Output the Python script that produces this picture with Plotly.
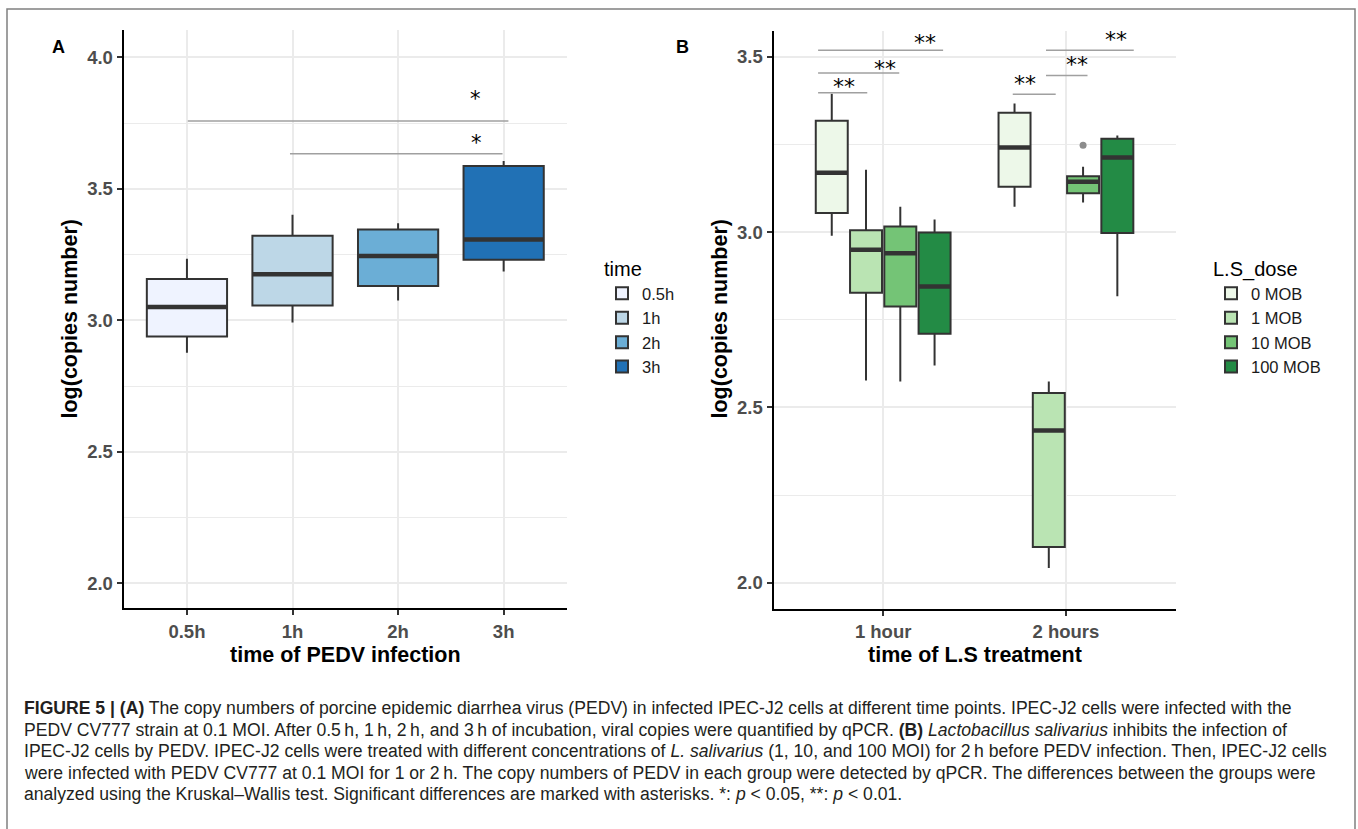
import plotly.graph_objects as go

W, H = 1358, 829

# ---------------- Panel A data ----------------
time_labels = ["0.5h", "1h", "2h", "3h"]
a_lower = [2.877, 2.992, 3.076, 3.186]
a_q1 = [2.939, 3.057, 3.131, 3.231]
a_median = [3.051, 3.176, 3.245, 3.308]
a_q3 = [3.158, 3.322, 3.346, 3.587]
a_upper = [3.235, 3.402, 3.370, 3.606]
a_colors = ["#EFF3FF", "#BDD7E7", "#6BAED6", "#2171B5"]

a_sig_x0 = [0.008, 0.976]
a_sig_x1 = [3.045, 2.989]
a_sig_y = [3.758, 3.634]
a_sig_label = ["*", "*"]
a_sig_text_x = [2.731, 2.747]
a_sig_text_y = [3.850, 3.682]
a_yticks = [2.0, 2.5, 3.0, 3.5, 4.0]

# ---------------- Panel B data ----------------
treat_labels = ["1 hour", "2 hours"]
dose_labels = ["0 MOB", "1 MOB", "10 MOB", "100 MOB"]
b_lower = [[2.990, 3.073], [2.577, 2.042], [2.574, 3.085], [2.620, 2.817]]
b_q1 = [[3.055, 3.130], [2.827, 2.102], [2.788, 3.111], [2.710, 2.998]]
b_median = [[3.170, 3.242], [2.950, 2.434], [2.940, 3.144], [2.845, 3.213]]
b_q3 = [[3.318, 3.341], [3.006, 2.541], [3.016, 3.160], [2.999, 3.267]]
b_upper = [[3.395, 3.367], [3.178, 2.574], [3.073, 3.187], [3.036, 3.276]]
b_colors = ["#EDF8E9", "#BAE4B3", "#74C476", "#238B45"]
b_outlier_dose = "10 MOB"
b_outlier_treat = "2 hours"
b_outlier_value = 3.248

b_sig_x0 = [-0.356, -0.356, -0.356, 0.709, 0.891, 0.891]
b_sig_x1 = [-0.087, 0.088, 0.328, 0.944, 1.118, 1.371]
b_sig_y = [3.398, 3.454, 3.519, 3.394, 3.447, 3.519]
b_sig_label = ["**", "**", "**", "**", "**", "**"]
b_sig_text_x = [-0.214, 0.009, 0.231, 0.776, 1.062, 1.276]
b_sig_text_y = [3.422, 3.472, 3.546, 3.429, 3.484, 3.557]
b_yticks = [2.0, 2.5, 3.0, 3.5]

caption_lines = [
    "<b>FIGURE 5 | (A)</b> The copy numbers of porcine epidemic diarrhea virus (PEDV) in infected IPEC-J2 cells at different time points. IPEC-J2 cells were infected with the",
    "PEDV CV777 strain at 0.1 MOI. After 0.5\u2009h, 1\u2009h, 2\u2009h, and 3\u2009h of incubation, viral copies were quantified by qPCR. <b>(B)</b> <i>Lactobacillus salivarius</i> inhibits the infection of",
    "IPEC-J2 cells by PEDV. IPEC-J2 cells were treated with different concentrations of <i>L. salivarius</i> (1, 10, and 100 MOI) for 2\u2009h before PEDV infection. Then, IPEC-J2 cells",
    "were infected with PEDV CV777 at 0.1 MOI for 1 or 2\u2009h. The copy numbers of PEDV in each group were detected by qPCR. The differences between the groups were",
    "analyzed using the Kruskal\u2013Wallis test. Significant differences are marked with asterisks. *: <i>p</i> &lt; 0.05, **: <i>p</i> &lt; 0.01.",
]

# ---------------- styling ----------------
FONT = "Liberation Sans, Arial, Helvetica, sans-serif"
EDGE = "#333333"
GRID = "#EBEBEB"
A_WIDTH = 0.76
B_DODGE = 0.75
B_WIDTH = 0.175


def px(x):
    return x / W


def py(y):
    return 1 - y / H


fig = go.Figure()

# Panel A boxes
for i, lab in enumerate(time_labels):
    fig.add_trace(go.Box(
        x=[i], q1=[a_q1[i]], median=[a_median[i]], q3=[a_q3[i]],
        lowerfence=[a_lower[i]], upperfence=[a_upper[i]],
        width=A_WIDTH, name=lab, fillcolor=a_colors[i],
        line=dict(color=EDGE, width=2), whiskerwidth=0, boxpoints=False,
        xaxis="x", yaxis="y", legend="legend", hoverinfo="skip",
    ))
for i, lab in enumerate(time_labels):
    fig.add_trace(go.Scatter(
        x=[i - A_WIDTH / 2, i + A_WIDTH / 2], y=[a_median[i], a_median[i]],
        mode="lines", line=dict(color=EDGE, width=4.5), showlegend=False,
        xaxis="x", yaxis="y", hoverinfo="skip",
    ))
for k in range(len(a_sig_y)):
    fig.add_trace(go.Scatter(
        x=[a_sig_x0[k], a_sig_x1[k]], y=[a_sig_y[k], a_sig_y[k]],
        mode="lines", line=dict(color="#A0A0A0", width=1.5), showlegend=False,
        xaxis="x", yaxis="y", hoverinfo="skip",
    ))

# Panel B boxes
n_d = len(dose_labels)
slot = B_DODGE / n_d
for j, dose in enumerate(dose_labels):
    off = (j - (n_d - 1) / 2) * slot
    xs = [t + off for t in range(len(treat_labels))]
    fig.add_trace(go.Box(
        x=xs, q1=b_q1[j], median=b_median[j], q3=b_q3[j],
        lowerfence=b_lower[j], upperfence=b_upper[j],
        width=B_WIDTH, name=dose, fillcolor=b_colors[j],
        line=dict(color=EDGE, width=2), whiskerwidth=0, boxpoints=False,
        xaxis="x2", yaxis="y2", legend="legend2", hoverinfo="skip",
    ))
    for t in range(len(treat_labels)):
        fig.add_trace(go.Scatter(
            x=[xs[t] - B_WIDTH / 2, xs[t] + B_WIDTH / 2],
            y=[b_median[j][t], b_median[j][t]],
            mode="lines", line=dict(color=EDGE, width=4.5), showlegend=False,
            xaxis="x2", yaxis="y2", hoverinfo="skip",
        ))
# outlier
oj = dose_labels.index(b_outlier_dose)
ot = treat_labels.index(b_outlier_treat)
fig.add_trace(go.Scatter(
    x=[ot + (oj - (n_d - 1) / 2) * slot], y=[b_outlier_value], mode="markers",
    marker=dict(color="#8C8C8C", size=7), showlegend=False,
    xaxis="x2", yaxis="y2", hoverinfo="skip",
))
for k in range(len(b_sig_y)):
    fig.add_trace(go.Scatter(
        x=[b_sig_x0[k], b_sig_x1[k]], y=[b_sig_y[k], b_sig_y[k]],
        mode="lines", line=dict(color="#A0A0A0", width=1.5), showlegend=False,
        xaxis="x2", yaxis="y2", hoverinfo="skip",
    ))

annotations = []
for k in range(len(a_sig_label)):
    annotations.append(dict(
        x=a_sig_text_x[k], y=a_sig_text_y[k], xref="x", yref="y",
        text=a_sig_label[k], showarrow=False, yshift=-2,
        font=dict(family="DejaVu Sans", size=21, color="black"),
    ))
for k in range(len(b_sig_label)):
    annotations.append(dict(
        x=b_sig_text_x[k], y=b_sig_text_y[k], xref="x2", yref="y2",
        text=b_sig_label[k], showarrow=False, yshift=-2,
        font=dict(family="DejaVu Sans", size=22, color="black"),
    ))

title_font = dict(family=FONT, size=21.5, color="black", weight="bold")
annotations += [
    dict(x=px(345.3), y=py(655), xref="paper", yref="paper", text="time of PEDV infection",
         showarrow=False, font=title_font, xanchor="center", yanchor="middle"),
    dict(x=px(70), y=py(319.5), xref="paper", yref="paper", text="log(copies number)",
         showarrow=False, font=title_font, textangle=-90, xanchor="center", yanchor="middle"),
    dict(x=px(974.5), y=py(655), xref="paper", yref="paper", text="time of L.S treatment",
         showarrow=False, font=title_font, xanchor="center", yanchor="middle"),
    dict(x=px(719.5), y=py(319), xref="paper", yref="paper", text="log(copies number)",
         showarrow=False, font=title_font, textangle=-90, xanchor="center", yanchor="middle"),
    dict(x=px(50), y=py(35), xref="paper", yref="paper", text="A", showarrow=False,
         font=dict(family=FONT, size=18, color="black", weight="bold")),
    dict(x=px(682), y=py(35), xref="paper", yref="paper", text="B", showarrow=False,
         font=dict(family=FONT, size=18, color="black", weight="bold")),
]
cap_y = [708, 729.5, 751, 772.5, 794]
for line, yy in zip(caption_lines, cap_y):
    annotations.append(dict(
        x=px(22), y=py(yy), xref="paper", yref="paper", text=line, showarrow=False,
        xanchor="left", yanchor="middle", align="left",
        font=dict(family=FONT, size=17.6, color="#231F20"),
    ))

tickfont = dict(family=FONT, size=18.5, color="#4D4D4D", weight="bold")
common_y = dict(
    showline=True, linecolor="black", linewidth=2, ticks="outside", ticklen=5,
    tickwidth=1.5, tickcolor="#333333", tickfont=tickfont, showgrid=True,
    gridcolor=GRID, gridwidth=2, zeroline=False, tickformat=".1f",
    minor=dict(dtick=0.25, tick0=0, showgrid=True, gridcolor=GRID, gridwidth=1, ticks=""),
)
common_x = dict(
    showline=True, linecolor="black", linewidth=2, ticks="outside", ticklen=5,
    tickwidth=1.5, tickcolor="#333333", tickfont=tickfont, showgrid=True,
    gridcolor=GRID, gridwidth=2, zeroline=False,
)

legend_common = dict(
    xanchor="left", yanchor="top", bgcolor="rgba(0,0,0,0)", tracegroupgap=0,
    font=dict(family=FONT, size=16.5, color="#1A1A1A"),
)

fig.update_layout(
    width=W, height=H, margin=dict(l=0, r=0, t=0, b=0),
    paper_bgcolor="white", plot_bgcolor="white", hovermode=False,
    font=dict(family=FONT),
    xaxis=dict(domain=[px(123.6), px(567)], range=[-0.6, len(time_labels) - 0.4],
               tickvals=list(range(len(time_labels))), ticktext=time_labels, anchor="y", **common_x),
    yaxis=dict(domain=[py(608.4), py(30.4)], range=[1.905, 4.103], tickvals=a_yticks,
               anchor="x", **common_y),
    xaxis2=dict(domain=[px(773.5), px(1175.6)], range=[-0.6, len(treat_labels) - 0.4],
                tickvals=list(range(len(treat_labels))), ticktext=treat_labels, anchor="y2", **common_x),
    yaxis2=dict(domain=[py(609), py(30.7)], range=[1.925, 3.575], tickvals=b_yticks,
                anchor="x2", **common_y),
    legend=dict(
        x=px(602), y=py(250),
        title=dict(text="time", font=dict(family=FONT, size=20, color="black")),
        **legend_common,
    ),
    legend2=dict(
        x=px(1211), y=py(250),
        title=dict(text="L.S_dose", font=dict(family=FONT, size=20, color="black")),
        **legend_common,
    ),
    annotations=annotations,
    shapes=[dict(type="rect", xref="paper", yref="paper", x0=px(7), x1=px(1355),
                 y0=py(840), y1=py(9), line=dict(color="#808080", width=1.5))],
)

fig.write_html("out.html")
